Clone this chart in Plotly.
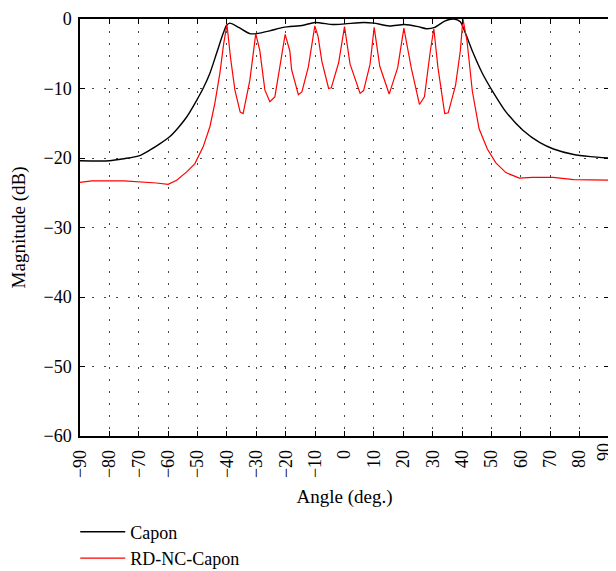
import plotly.graph_objects as go

# Capon (black)
capon_angle = [-90, -80, -75, -70, -66, -63, -59.4, -56.5, -53.7, -50.3, -48, -45.8, -43.5, -41.3, -40.1, -39, -36,
               -32.2, -30, -25.4, -20.8, -14, -10.1, -3.8, 0.2, 6.6, 10, 15.2, 20.4, 25, 27.9, 30.7, 34.1, 37.1,
               39.4, 41.2, 43.5, 46.9, 50.4, 55, 60.7, 66.5, 71.1, 78, 83.8, 90]
capon_db = [-20.4, -20.4, -20.1, -19.7, -18.8, -18.0, -16.9, -15.6, -14.1, -11.7, -9.9, -7.8, -4.9, -2.1, -0.9, -0.6,
            -1.2, -2.1, -2.1, -1.7, -1.2, -0.9, -0.5, -0.8, -0.7, -0.5, -0.6, -1.0, -0.8, -1.1, -1.4, -1.2, -0.3,
            0.0, -0.4, -2.1, -4.6, -7.8, -10.4, -13.4, -16.0, -17.8, -18.7, -19.5, -19.8, -20.0]

# RD-NC-Capon (red)
rd_angle = [-90, -86, -75, -70, -64, -60, -57.1, -53.7, -50.9, -48.1, -45.8, -44.1, -42.4, -41.1, -40,
            -38.8, -37.3, -35.5, -34.5, -32.2, -30.2, -28.8, -27.1, -25.4, -23.7, -22, -20.2,
            -18.6, -18, -15.7, -14.5, -12.3, -10.1, -9, -7.7, -5.4, -4.5, -2, 0,
            1.9, 5.3, 6.5, 8.7, 10.1, 12, 15.2, 18.1, 20.2, 22.7, 25.5, 27.2, 29.2, 30.4, 31.8, 34.1, 35.3,
            37.8, 39.4, 40.3, 41.7, 43.5, 45.8, 48.6, 51.5, 54.9, 59.5, 64, 71, 78, 90]
rd_db = [-23.5, -23.3, -23.3, -23.4, -23.6, -23.8, -23.2, -22.0, -20.8, -18.4, -15.5, -12.1, -7.8, -3.5, -0.8,
         -5.5, -10.2, -13.4, -13.6, -8.8, -2.1, -4.6, -10.2, -11.9, -11.2, -6.9, -2.2,
         -4.6, -7.3, -10.9, -10.5, -6.9, -1.0, -2.5, -6.1, -10.0, -9.9, -6.3, -1.1,
         -6.5, -10.7, -10.3, -6.5, -1.2, -6.8, -10.8, -7.0, -1.3, -7.0, -12.3, -11.2, -4.6, -1.4, -7.0, -13.6, -13.5,
         -9.5, -4.6, 0.0, -3.2, -10.4, -15.8, -18.7, -20.7, -22.1, -22.9, -22.8, -22.8, -23.1, -23.2]

x_ticks = list(range(-90, 91, 10))
x_tick_labels = ["\u2212" + str(-v) if v < 0 else str(v) for v in x_ticks]
y_ticks = list(range(-60, 1, 10))

font_family = "Liberation Serif, Times New Roman, serif"

fig = go.Figure()
fig.add_trace(go.Scatter(x=capon_angle, y=capon_db, mode="lines", name="Capon",
                         line=dict(color="black", width=1.4, shape="spline", smoothing=0.7)))
fig.add_trace(go.Scatter(x=rd_angle, y=rd_db, mode="lines", name="RD-NC-Capon",
                         line=dict(color="#ff0000", width=1.2)))

axis_common = dict(showline=True, linecolor="black", linewidth=1.5, mirror="ticks",
                   ticks="inside", ticklen=5, tickcolor="black",
                   showgrid=True, gridcolor="#444444", griddash="2px,10px", gridwidth=1,
                   zeroline=False, ticklabeloverflow="allow", automargin=False,
                   tickfont=dict(size=18, color="black", family=font_family))

# the last tick label sits at the window edge, so it is drawn slightly inset as an annotation
shown_x_labels = x_tick_labels[:-1] + [""]
fig.update_xaxes(range=[-90, 90], tickvals=x_ticks, ticktext=shown_x_labels, tickangle=-90, ticklabelstandoff=5,
                 title=dict(text="Angle (deg.)", font=dict(size=19, color="black", family=font_family), standoff=13),
                 **axis_common)
fig.update_yaxes(range=[-60, 0], tickvals=y_ticks, ticklabelstandoff=3,
                 title=dict(text="Magnitude (dB)", font=dict(size=19, color="black", family=font_family), standoff=17),
                 **axis_common)

fig.add_annotation(x=x_ticks[-1], xref="x", y=0, yref="paper", text=x_tick_labels[-1],
                   textangle=-90, showarrow=False, xanchor="right", yanchor="top",
                   xshift=6, yshift=-6, borderpad=0,
                   font=dict(size=18, color="black", family=font_family))

# page body adds an 8px offset, so the figure is sized to fit the 616x571 window
fig.update_layout(
    width=608, height=563,
    margin=dict(l=72, r=7, t=11, b=135),
    paper_bgcolor="white", plot_bgcolor="white",
    font=dict(family=font_family, color="black"),
    showlegend=True,
    legend=dict(x=-0.009, xanchor="left", xref="paper", y=0.102, yanchor="top", yref="container",
                orientation="v",
                font=dict(size=18, family=font_family, color="black"),
                bgcolor="rgba(0,0,0,0)", tracegroupgap=0, itemwidth=45),
)

fig.write_html("out.html")
